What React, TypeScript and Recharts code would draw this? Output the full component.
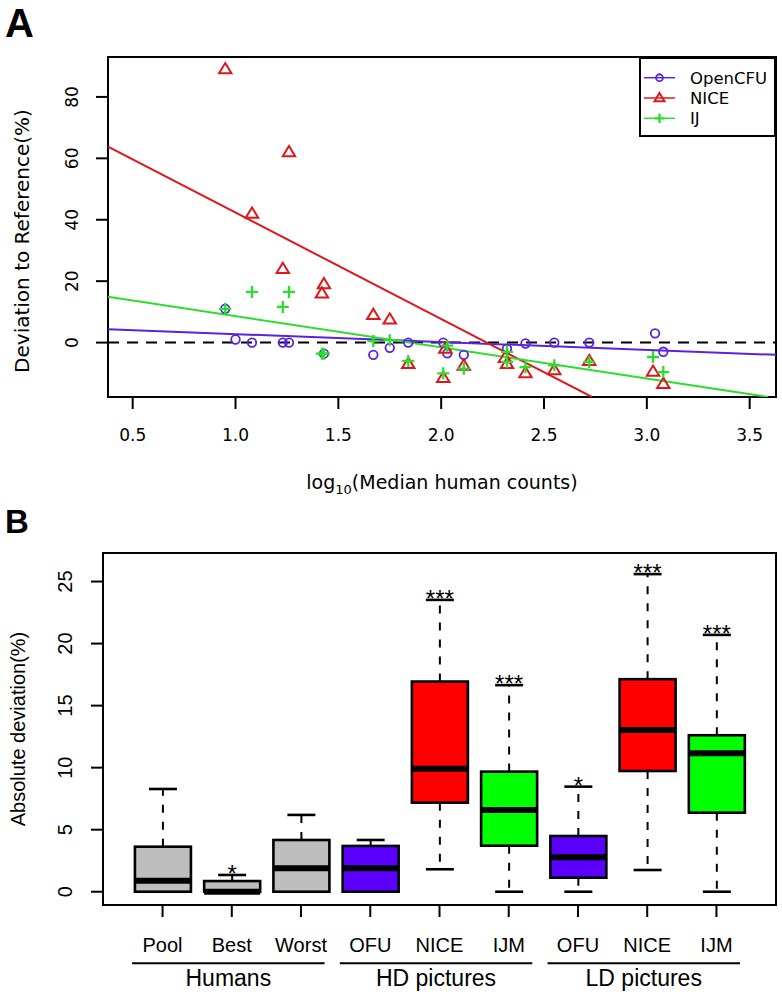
import React from 'react'
import {
  ComposedChart,
  Scatter,
  Line,
  Bar,
  XAxis,
  YAxis,
  ReferenceLine,
  ReferenceArea,
  Legend,
  Label,
} from 'recharts'

// ---- panel A: deviation vs log10(median human counts)
const openCfuX = [0.95, 1.0, 1.08, 1.23, 1.26, 1.43, 1.67, 1.75, 1.84, 2.01, 2.03, 2.11, 2.32, 2.41, 2.55, 2.72, 3.04, 3.08]
const openCfuY = [11, 1, 0, 0, 0, -3.6, -4, -1.7, 0, 0, -3.5, -4, -2, -0.3, 0, 0, 3, -3]
const niceX = [0.95, 1.08, 1.23, 1.26, 1.42, 1.43, 1.67, 1.75, 1.84, 2.01, 2.02, 2.11, 2.31, 2.32, 2.41, 2.55, 2.72, 3.03, 3.08]
const niceY = [89, 42, 24, 62, 16, 19, 9, 7.5, -7, -11.5, -2, -7.5, -5, -7, -10, -9, -6, -9.5, -13.5]
const ijX = [0.95, 1.08, 1.23, 1.26, 1.42, 1.43, 1.67, 1.75, 1.84, 2.01, 2.03, 2.11, 2.32, 2.32, 2.41, 2.55, 2.72, 3.03, 3.08]
const ijY = [11, 16.5, 11.6, 16.5, -3.6, -3.6, 0.5, 0.8, -6, -10, -1, -8.5, -3, -6.3, -8, -7.4, -6.3, -4.7, -9.6]

// fitted lines, read as two end points each
const openCfuFitX = [0.38, 3.628]
const openCfuFitY = [4.35, -4]
const niceFitX = [0.38, 2.733]
const niceFitY = [63.8, -17.7]
const ijFitX = [0.38, 3.59]
const ijFitY = [14.9, -17.7]

const seriesNames = ['OpenCFU', 'NICE', 'IJ']
const seriesColors = ['#5b22dd', '#e0161c', '#2ddd2d']

const xTicksA = [0.5, 1.0, 1.5, 2.0, 2.5, 3.0, 3.5]
const yTicksA = [0, 20, 40, 60, 80]
const xDomainA: [number, number] = [0.38, 3.628]
const yDomainA: [number, number] = [-17.72, 93.0]

// ---- panel B: absolute deviation boxplots
const categories = ['Pool', 'Best', 'Worst', 'OFU', 'NICE', 'IJM', 'OFU', 'NICE', 'IJM']
const whiskerLow = [0, 0, 0, 0, 1.81, 0, 0, 1.75, 0]
const quartile1 = [0, 0, 0, 0, 7.18, 3.71, 1.13, 9.73, 6.37]
const medians = [0.89, 0, 1.89, 1.89, 9.92, 6.59, 2.77, 13.04, 11.16]
const quartile3 = [3.63, 0.86, 4.17, 3.69, 16.94, 9.68, 4.49, 17.13, 12.61]
const whiskerHigh = [8.28, 1.35, 6.19, 4.17, 23.52, 16.65, 8.47, 25.6, 20.7]
const significance = ['', '*', '', '', '***', '***', '*', '***', '***']
const groupNames = ['Humans', 'HD pictures', 'LD pictures']
const groupFirst = [0, 3, 6]
const groupLast = [2, 5, 8]

const boxFills = ['#bebebe', '#bebebe', '#bebebe', '#5b00ff', '#ff0000', '#00ff00', '#5b00ff', '#ff0000', '#00ff00']
const yTicksB = [0, 5, 10, 15, 20, 25]
const xDomainB: [number, number] = [0.14, 9.86]
const yDomainB: [number, number] = [-1.07, 27.3]

const FONT_A = "'DejaVu Sans', sans-serif"
const FONT_B = "'Liberation Sans', Arial, sans-serif"

const zip = (xs: number[], ys: number[]) => xs.map((x, i) => ({ x, y: ys[i] }))

const boxData = categories.map((name, i) => ({
  pos: i + 1,
  name,
  lo: whiskerLow[i],
  q1: quartile1[i],
  med: medians[i],
  q3: quartile3[i],
  hi: whiskerHigh[i],
  sig: significance[i],
  fill: boxFills[i],
}))

const Marker = ({ cx, cy, kind, color, s = 1 }: any) => {
  if (kind === 0)
    return <circle cx={cx} cy={cy} r={4.3 * s} fill='none' stroke={color} strokeWidth={1.8} />
  if (kind === 1) {
    const h = 6.2 * s
    return (
      <path
        d={`M${cx},${cy - h} L${cx + h},${cy + h * 0.65} L${cx - h},${cy + h * 0.65} Z`}
        fill='none'
        stroke={color}
        strokeWidth={2}
      />
    )
  }
  const h = 6 * s
  return (
    <path
      d={`M${cx - h},${cy} H${cx + h} M${cx},${cy - h} V${cy + h}`}
      stroke={color}
      strokeWidth={2.3}
    />
  )
}

const LegendBox = () => (
  <svg width={137} height={80} style={{ display: 'block' }}>
    <rect x={1} y={1} width={135} height={78} fill='#fff' stroke='#000' strokeWidth={2} />
    {seriesNames.map((n, i) => {
      const cy = 20.7 + i * 20.3
      return (
        <g key={n}>
          <line x1={5} x2={36} y1={cy} y2={cy} stroke={seriesColors[i]} strokeWidth={1.5} />
          <Marker cx={20.5} cy={cy} kind={i} color={seriesColors[i]} s={0.8} />
          <text x={51} y={cy} dy='0.36em' fontSize={16.5} fontFamily={FONT_A} fill='#000'>
            {n}
          </text>
        </g>
      )
    })}
  </svg>
)

const RotatedYTick = ({ x, y, payload, shift, size, font }: any) => {
  const tx = x - shift
  return (
    <text
      x={tx}
      y={y}
      dy='0.36em'
      textAnchor='middle'
      transform={`rotate(-90, ${tx}, ${y})`}
      fontSize={size}
      fontFamily={font}
      fill='#000'
    >
      {payload.value}
    </text>
  )
}

const TopXTick = ({ x, y, payload }: any) => (
  <text x={x} y={y + 24} dy='0.36em' textAnchor='middle' fontSize={17} fontFamily={FONT_A} fill='#000'>
    {Number(payload.value).toFixed(1)}
  </text>
)

const BoxXTick = ({ x, y, payload, width }: any) => {
  const idx = payload.value - 1
  const band = (width || 673) / (xDomainB[1] - xDomainB[0])
  const g = groupFirst.indexOf(idx)
  let group = null
  if (g >= 0) {
    const x1 = x - 0.44 * band
    const x2 = x + (groupLast[g] - groupFirst[g] + 0.34) * band
    group = (
      <g>
        <line x1={x1} x2={x2} y1={y + 44.3} y2={y + 44.3} stroke='#000' strokeWidth={2} />
        <text x={(x1 + x2) / 2} y={y + 59} dy='0.36em' textAnchor='middle' fontSize={23} fontFamily={FONT_B} fill='#000'>
          {groupNames[g]}
        </text>
      </g>
    )
  }
  return (
    <g>
      <text x={x} y={y + 26} dy='0.36em' textAnchor='middle' fontSize={20} fontFamily={FONT_B} fill='#000'>
        {categories[idx]}
      </text>
      {group}
    </g>
  )
}

const BoxShape = (props: any) => {
  const { x, y, width, height, payload } = props
  const top = Math.min(y, y + height)
  const h = Math.abs(height)
  const unit = h / (payload.q3 - payload.q1)
  const py = (v: number) => top + (payload.q3 - v) * unit
  const cx = x + width / 2
  const cap = width / 4
  return (
    <g>
      <line x1={cx} x2={cx} y1={py(payload.q3)} y2={py(payload.hi)} stroke='#000' strokeWidth={2} strokeDasharray='8 9' />
      <line x1={cx} x2={cx} y1={py(payload.q1)} y2={py(payload.lo)} stroke='#000' strokeWidth={2} strokeDasharray='8 9' />
      <line x1={cx - cap} x2={cx + cap} y1={py(payload.hi)} y2={py(payload.hi)} stroke='#000' strokeWidth={2.6} />
      <line x1={cx - cap} x2={cx + cap} y1={py(payload.lo)} y2={py(payload.lo)} stroke='#000' strokeWidth={2.6} />
      <rect x={x} y={top} width={width} height={h} fill={payload.fill} stroke='#000' strokeWidth={2.6} />
      <line x1={x} x2={x + width} y1={py(payload.med)} y2={py(payload.med)} stroke='#000' strokeWidth={6} />
      {payload.sig && (
        <text x={cx} y={py(payload.hi) + 7} textAnchor='middle' fontSize={24} fontFamily={FONT_B} fill='#000'>
          {payload.sig}
        </text>
      )}
    </g>
  )
}

const TitleA = ({ viewBox }: any) => (
  <text
    x={viewBox.x + viewBox.width / 2}
    y={viewBox.y + 85}
    dy='0.36em'
    textAnchor='middle'
    fontSize={19}
    fontFamily={FONT_A}
    fill='#000'
  >
    log
    <tspan fontSize={13} dy='5'>10</tspan>
    <tspan dy='-5'>(Median human counts)</tspan>
  </text>
)

const YTitle = ({ viewBox, cxPos, shiftY, text, size, font }: any) => {
  const cy = viewBox.y + viewBox.height / 2 + shiftY
  return (
    <text
      x={cxPos}
      y={cy}
      dy='0.36em'
      textAnchor='middle'
      transform={`rotate(-90, ${cxPos}, ${cy})`}
      fontSize={size}
      fontFamily={font}
      fill='#000'
    >
      {text}
    </text>
  )
}

const App = () => {
  const markerSets = [zip(openCfuX, openCfuY), zip(niceX, niceY), zip(ijX, ijY)]
  const fitSets = [zip(openCfuFitX, openCfuFitY), zip(niceFitX, niceFitY), zip(ijFitX, ijFitY)]
  const tickLine = { stroke: '#000', strokeWidth: 2 }

  return (
    <div style={{ position: 'absolute', left: 0, top: 0, width: 782, height: 995, background: '#fff' }}>
      <div style={{ position: 'absolute', left: 0, top: 0 }}>
        <ComposedChart width={782} height={500} margin={{ top: 57, right: 6, bottom: 43, left: 0 }}>
          <XAxis
            type='number'
            dataKey='x'
            domain={xDomainA}
            ticks={xTicksA}
            allowDataOverflow
            axisLine={false}
            tickLine={tickLine}
            tickSize={12}
            height={60}
            interval={0}
            tick={<TopXTick />}
          >
            <Label content={<TitleA />} />
          </XAxis>
          <YAxis
            type='number'
            dataKey='y'
            domain={yDomainA}
            ticks={yTicksA}
            allowDataOverflow
            axisLine={false}
            tickLine={tickLine}
            tickSize={12}
            width={108}
            interval={0}
            tick={<RotatedYTick shift={22} size={17} font={FONT_A} />}
          >
            <Label content={<YTitle cxPos={21.5} shiftY={14} text='Deviation to Reference(%)' size={20} font={FONT_A} />} />
          </YAxis>
          <ReferenceArea
            x1={xDomainA[0]}
            x2={xDomainA[1]}
            y1={yDomainA[0]}
            y2={yDomainA[1]}
            fill='none'
            stroke='#000'
            strokeWidth={2}
            ifOverflow='visible'
          />
          <ReferenceLine y={0} stroke='#000' strokeWidth={2} strokeDasharray='11 8' />
          {markerSets.map((pts, i) => (
            <Scatter
              key={seriesNames[i]}
              name={seriesNames[i]}
              data={pts}
              dataKey='y'
              isAnimationActive={false}
              shape={(p: any) => <Marker cx={p.cx} cy={p.cy} kind={i} color={seriesColors[i]} />}
            />
          ))}
          {fitSets.map((pts, i) => (
            <Line
              key={'fit' + i}
              data={pts}
              dataKey='y'
              type='linear'
              stroke={seriesColors[i]}
              strokeWidth={2}
              dot={false}
              activeDot={false}
              legendType='none'
              isAnimationActive={false}
            />
          ))}
          <Legend
            layout='vertical'
            align='center'
            verticalAlign='middle'
            content={<LegendBox />}
            wrapperStyle={{ position: 'absolute', left: 639, top: 57, width: 137, height: 80 }}
          />
        </ComposedChart>
      </div>

      <div style={{ position: 'absolute', left: 0, top: 500 }}>
        <ComposedChart width={782} height={495} data={boxData} margin={{ top: 53, right: 6, bottom: 0, left: 0 }}>
          <XAxis
            type='number'
            dataKey='pos'
            domain={xDomainB}
            ticks={[1, 2, 3, 4, 5, 6, 7, 8, 9]}
            allowDataOverflow
            axisLine={false}
            tickLine={tickLine}
            tickSize={12}
            height={90}
            interval={0}
            tick={<BoxXTick />}
          />
          <YAxis
            type='number'
            domain={yDomainB}
            ticks={yTicksB}
            allowDataOverflow
            axisLine={false}
            tickLine={tickLine}
            tickSize={12}
            width={103}
            interval={0}
            tick={<RotatedYTick shift={23.7} size={20} font={FONT_B} />}
          >
            <Label content={<YTitle cxPos={18} shiftY={0} text='Absolute deviation(%)' size={20} font={FONT_B} />} />
          </YAxis>
          <ReferenceArea
            x1={xDomainB[0]}
            x2={xDomainB[1]}
            y1={yDomainB[0]}
            y2={yDomainB[1]}
            fill='none'
            stroke='#000'
            strokeWidth={2}
            ifOverflow='visible'
          />
          <Bar
            dataKey={(d: any) => [d.q1, d.q3]}
            barSize={56}
            shape={<BoxShape />}
            isAnimationActive={false}
          />
        </ComposedChart>
      </div>

      <svg
        width={782}
        height={995}
        style={{ position: 'absolute', left: 0, top: 0, pointerEvents: 'none' }}
      >
        <text x={5} y={37} fontSize={40} fontWeight='bold' fontFamily={FONT_B} fill='#000'>
          A
        </text>
        <text x={5} y={533} fontSize={33} fontWeight='bold' fontFamily={FONT_B} fill='#000'>
          B
        </text>
      </svg>
    </div>
  )
}

export default App
